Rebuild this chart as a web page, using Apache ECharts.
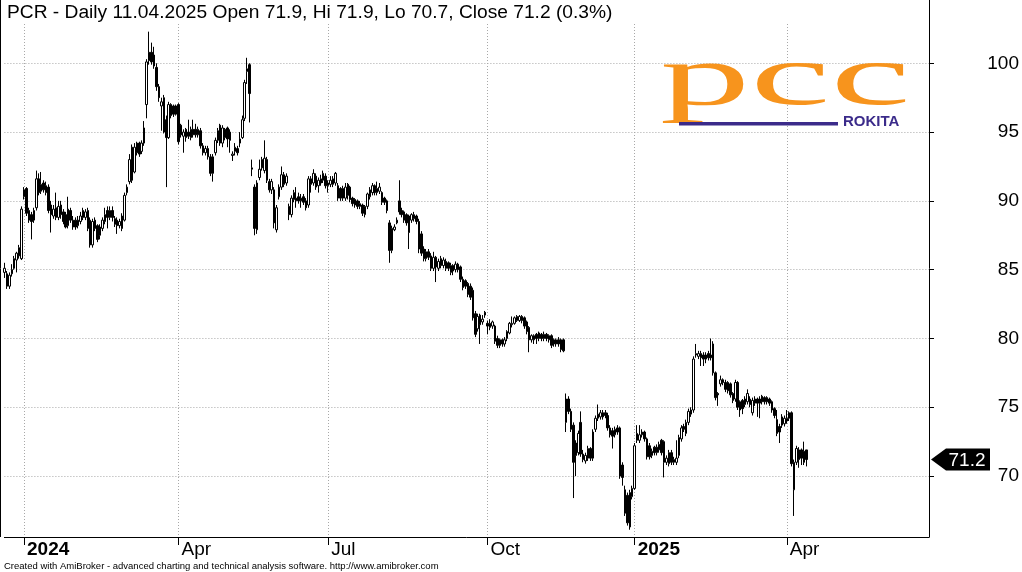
<!DOCTYPE html>
<html><head><meta charset="utf-8">
<script src="https://cdn.jsdelivr.net/npm/echarts@6/dist/echarts.min.js"></script>
<style>html,body{margin:0;padding:0;background:#fff}#c{width:1022px;height:572px}</style>
</head><body><div id="c"></div>
<script>
// ---------- data ----------
const titleText = 'PCR - Daily 11.04.2025 Open 71.9, Hi 71.9, Lo 70.7, Close 71.2 (0.3%)';
const footerText = 'Created with AmiBroker - advanced charting and technical analysis software. http://www.amibroker.com';
const startDate = '2023-12-18';
const holidays = ['2023-12-25','2023-12-26','2024-01-01','2024-03-29','2024-04-01','2024-05-01','2024-05-03','2024-05-30','2024-08-15','2024-11-01','2024-11-11','2024-12-24','2024-12-25','2024-12-26','2024-12-31','2025-01-01','2025-01-06','2025-04-18','2025-04-21','2025-05-01','2025-06-19'];
const totalSlots = 378;
const quarterMonths = [0, 3, 6, 9];
const monthNames = ['Jan','Feb','Mar','Apr','May','Jun','Jul','Aug','Sep','Oct','Nov','Dec'];
const yTicks = [70, 75, 80, 85, 90, 95, 100];
const yMin = 65.57, yMax = 104.6;

const opens = [
84.8,84.7,83.8,84.7,85.1,85.7,86.0,85.8,90.3,90.9,
89.3,89.0,88.6,89.5,91.6,90.7,91.3,91.1,91.0,89.7,
88.9,89.5,88.8,89.7,89.2,89.0,88.2,89.3,88.1,88.6,
88.2,88.5,89.3,88.8,89.3,88.6,86.8,88.6,88.2,87.5,
88.0,88.5,89.3,88.8,89.3,88.7,88.6,88.2,88.9,88.6,
90.6,91.4,93.9,92.1,94.2,94.2,93.6,94.2,97.0,100.8,
100.8,100.6,99.7,98.3,96.9,95.0,95.9,94.6,97.0,96.9,
96.3,97.0,95.5,94.7,95.2,95.0,94.6,95.2,95.2,94.8,
95.1,94.0,93.5,93.8,93.2,92.0,93.5,94.4,95.5,94.2,
95.2,95.3,95.0,93.3,93.6,93.8,94.2,94.6,96.0,99.4,
99.9,92.3,91.0,87.9,91.7,93.0,92.2,93.0,91.4,90.8,
90.8,87.9,90.3,91.0,91.9,91.3,89.6,89.0,90.1,90.0,
90.3,90.0,90.3,90.0,89.7,91.6,91.3,91.8,91.1,91.3,
91.5,91.8,91.1,91.2,91.2,91.3,91.1,90.9,90.2,90.2,
91.2,91.0,90.2,90.1,90.0,89.6,89.7,89.0,89.6,90.3,
90.6,91.1,90.6,90.7,90.6,90.2,90.0,88.4,86.4,87.9,
88.4,90.0,89.3,89.2,89.0,88.9,88.6,88.7,88.9,88.5,
87.6,86.5,85.8,86.3,86.0,85.1,85.9,85.1,85.8,85.3,
85.6,85.5,84.8,85.3,85.0,85.4,85.2,84.3,84.2,84.0,
83.8,83.5,81.8,80.7,81.7,81.2,81.9,81.1,80.8,80.9,
80.9,80.0,79.9,79.9,79.6,80.0,80.4,81.0,81.1,81.3,
81.3,81.6,81.5,81.2,80.8,79.9,79.9,80.3,80.0,80.3,
80.0,80.3,79.9,80.2,79.9,79.6,79.9,79.9,79.9,73.9,
75.6,74.7,73.7,72.4,71.7,73.9,71.6,71.1,71.3,72.0,
71.3,73.4,74.2,74.3,74.6,74.6,74.4,73.5,73.3,73.0,
73.5,73.5,70.8,69.0,68.6,66.3,68.5,69.1,72.6,72.6,
73.0,73.2,72.7,72.2,71.5,72.1,71.7,71.9,72.6,72.5,
71.0,70.9,71.7,71.0,71.0,71.5,72.7,73.6,73.1,73.9,
74.5,74.8,78.8,78.7,78.9,78.8,78.5,78.9,78.8,79.6,
77.5,76.0,76.7,77.0,76.8,76.8,76.7,76.0,75.6,76.8,
75.4,75.5,75.2,75.4,75.6,74.6,75.3,75.6,75.3,75.8,
75.7,75.7,75.6,75.4,74.9,74.1,73.6,73.7,73.8,74.0,
74.6,74.6,69.0,71.0,71.9,71.9,71.8,71.9];
const closes = [
85.1,83.8,84.6,85.0,85.8,86.2,86.6,89.4,90.8,89.1,
88.6,88.5,89.3,91.6,90.6,91.2,90.8,90.6,89.3,89.0,
89.4,88.8,89.6,89.0,88.5,88.1,89.4,88.6,88.6,88.1,
88.6,88.9,88.8,89.2,88.0,86.8,88.5,88.0,87.2,88.1,
88.6,89.0,88.8,89.3,88.8,88.3,88.2,88.5,88.0,90.4,
91.0,93.0,91.5,93.9,93.5,93.4,94.2,95.3,100.1,100.2,
100.1,99.8,98.3,97.5,97.2,97.5,94.6,97.0,96.2,96.3,
96.9,94.3,94.8,95.0,94.6,94.7,95.2,94.8,94.8,95.2,
94.0,93.5,93.8,93.2,92.0,93.2,94.4,95.1,94.2,95.3,
94.6,94.5,94.4,93.4,93.9,93.5,94.5,95.9,98.6,99.6,
97.8,92.4,88.0,91.3,92.3,92.4,93.1,91.5,90.8,91.4,
88.4,89.5,91.0,91.9,91.2,91.8,89.0,90.2,90.6,90.2,
90.0,90.2,89.9,89.5,91.6,91.2,92.0,91.0,91.5,91.6,
92.0,91.1,91.3,91.5,91.6,92.0,90.2,90.2,90.9,91.0,
90.4,90.1,89.8,89.7,89.6,89.8,89.1,89.6,90.5,90.8,
91.1,90.6,90.9,91.0,89.9,89.9,89.3,86.4,88.0,88.1,
88.6,89.2,89.0,88.6,88.4,87.7,89.0,89.0,88.5,86.5,
86.2,85.8,86.3,85.9,85.1,85.9,85.2,85.6,85.3,85.7,
85.1,85.1,85.3,84.9,85.4,85.0,84.3,83.7,83.8,83.2,
83.0,81.5,80.3,81.6,81.0,81.4,81.7,80.9,81.1,81.2,
79.8,79.5,79.5,79.6,79.9,80.5,81.1,81.1,81.5,81.6,
81.6,81.3,80.9,80.5,79.9,80.2,80.2,80.0,80.4,80.0,
80.3,80.0,80.2,79.5,79.6,79.9,79.6,79.2,79.1,75.6,
74.7,73.4,71.0,71.5,73.1,71.6,71.2,71.5,72.0,71.3,
73.2,74.2,74.5,74.6,74.3,74.4,73.5,73.0,72.9,73.4,
73.2,70.0,69.9,67.3,66.6,68.8,69.1,72.2,73.1,73.0,
73.2,72.7,71.4,71.4,71.8,71.7,72.1,72.3,71.7,71.0,
71.3,71.7,71.0,71.2,71.3,72.8,73.5,73.4,73.9,74.7,
74.8,78.5,78.9,78.9,78.6,78.5,78.8,78.6,78.6,77.5,
75.7,75.9,77.0,76.8,76.3,76.2,75.9,75.5,76.8,75.0,
74.8,74.9,75.6,76.0,75.2,75.5,75.6,75.3,75.6,75.4,
75.4,75.4,75.3,74.8,74.4,73.1,73.2,74.3,74.2,74.2,
74.2,70.9,71.0,72.0,71.2,71.3,71.0,71.2];
const lows = [
84.4,83.6,83.6,84.5,85.0,84.8,85.8,85.7,90.1,88.9,
88.4,87.2,88.4,89.3,90.4,90.5,90.6,90.4,89.1,87.7,
88.7,88.6,88.6,88.7,88.3,88.0,88.0,88.4,87.9,87.9,
88.0,88.3,88.6,88.6,87.8,86.6,86.6,87.8,87.0,87.2,
87.8,88.3,88.0,88.6,88.5,88.1,87.6,88.0,87.8,88.5,
90.4,91.2,91.3,92.0,93.3,93.2,93.4,94.0,96.0,99.9,
99.9,99.6,98.0,97.2,95.1,94.9,91.0,94.5,96.0,96.1,
96.2,94.1,94.6,93.5,94.3,94.5,94.4,94.6,94.6,94.6,
93.8,93.3,93.3,93.0,91.8,91.4,93.3,94.2,94.0,93.9,
94.4,93.9,93.5,92.9,93.3,93.3,93.9,94.5,95.8,98.5,
95.7,91.8,87.5,87.6,91.5,92.2,92.0,91.3,90.6,90.5,
88.0,87.7,90.1,90.8,91.0,91.1,88.6,88.8,89.9,89.5,
89.8,89.5,89.7,89.3,89.5,90.6,91.1,90.8,90.6,91.1,
91.3,90.9,90.6,91.0,91.0,91.1,90.0,90.0,90.0,90.0,
90.1,89.9,89.6,89.5,89.4,89.4,88.9,88.8,89.4,90.1,
90.4,90.4,90.4,90.5,89.7,89.7,89.1,85.5,86.2,87.8,
88.3,89.0,88.8,88.4,88.2,86.5,88.4,88.5,88.3,86.2,
86.0,85.6,85.6,85.7,84.9,84.9,84.1,84.9,85.1,85.1,
84.9,84.9,84.6,84.6,84.8,84.8,84.1,83.5,83.6,83.0,
82.8,81.3,80.1,80.5,79.6,81.0,81.5,80.3,80.6,80.7,
79.6,79.3,79.3,79.4,79.4,79.8,80.3,80.8,81.0,81.2,
81.2,81.1,80.7,80.3,79.0,79.7,79.6,79.6,79.8,79.8,
79.8,79.8,79.7,79.3,79.4,79.4,79.4,79.0,79.0,73.2,
74.5,73.2,68.4,70.0,71.5,71.4,71.0,70.9,71.1,71.1,
71.1,73.2,74.0,74.1,74.1,74.2,73.3,72.8,72.0,72.8,
73.0,69.8,69.3,67.1,66.4,66.1,68.3,69.0,72.4,72.4,
72.8,72.5,71.2,71.2,71.3,71.5,71.5,71.7,71.5,69.9,
70.8,70.7,70.8,70.8,70.8,71.3,72.5,73.2,72.9,73.7,
74.3,74.6,78.6,78.5,78.0,78.0,78.2,78.4,78.4,77.3,
75.5,75.1,76.5,76.6,76.1,76.0,75.7,75.3,75.4,74.8,
74.3,74.5,75.0,75.2,75.0,74.4,75.1,74.3,74.2,75.2,
75.2,75.2,75.1,74.6,74.2,72.9,72.4,73.5,73.6,73.8,
74.0,70.7,67.1,70.8,70.6,70.8,70.8,70.7];
const highs = [
85.5,84.9,84.8,85.4,86.0,86.3,86.8,89.6,91.0,91.0,
89.5,89.2,89.5,92.2,92.0,92.1,91.5,91.4,91.2,90.0,
89.7,90.6,90.0,90.0,89.4,89.2,90.3,89.5,88.9,88.8,
88.9,89.2,89.5,89.4,89.5,88.8,88.7,88.8,88.3,88.3,
88.8,89.5,89.6,89.6,89.6,88.9,88.8,88.7,89.1,90.6,
91.2,93.4,94.1,94.2,94.3,94.3,94.4,95.8,100.3,102.3,
101.5,101.2,100.0,98.5,97.5,97.7,96.2,97.2,97.1,97.0,
97.0,97.1,95.6,95.2,95.3,95.9,95.4,95.9,95.6,95.4,
95.3,94.2,94.0,94.0,93.4,93.4,94.6,95.3,95.6,95.5,
95.3,95.4,95.2,93.6,94.2,94.0,95.0,96.2,98.8,100.4,
100.0,93.0,91.2,91.5,93.0,93.2,94.4,93.2,91.6,91.6,
91.0,89.7,91.2,92.5,92.1,92.0,89.8,90.4,90.8,91.0,
90.6,90.5,90.5,90.2,91.8,91.8,92.3,92.0,91.7,91.9,
92.2,92.0,91.5,91.8,91.8,92.1,91.3,91.0,91.1,91.3,
91.3,91.1,90.3,90.2,90.1,90.0,89.8,89.7,90.6,91.0,
91.3,91.2,91.4,91.3,90.7,90.3,90.1,88.6,88.2,88.3,
88.8,91.5,89.5,89.3,89.1,89.0,89.1,89.2,89.0,88.7,
87.8,86.7,86.5,86.5,86.2,86.3,86.0,85.8,86.0,85.9,
85.8,85.6,85.5,85.4,85.6,85.5,85.3,84.5,84.3,84.1,
84.0,83.7,82.0,81.8,81.8,81.7,82.0,81.3,81.4,81.3,
81.0,80.2,80.0,80.0,80.1,80.6,81.2,81.6,81.6,81.7,
81.7,81.7,81.6,81.3,80.9,80.3,80.3,80.4,80.5,80.4,
80.5,80.4,80.3,80.3,80.0,80.0,80.1,80.0,80.0,76.0,
75.8,74.9,73.9,72.6,73.3,74.7,71.9,71.7,72.2,72.1,
73.4,74.4,75.2,74.8,74.8,74.8,74.6,73.7,73.5,73.6,
73.7,73.6,71.0,69.3,68.8,69.0,69.3,72.4,73.7,73.7,
73.4,73.3,72.8,72.4,72.0,72.2,72.3,72.5,72.7,72.6,
71.5,71.9,71.9,71.4,72.6,73.0,73.7,73.8,74.1,74.9,
75.0,78.7,79.6,79.1,79.1,79.0,79.0,79.1,80.0,79.8,
77.6,76.1,77.3,77.1,77.0,76.9,76.8,76.1,77.0,76.9,
75.5,75.6,75.8,76.3,75.8,75.7,75.8,75.7,75.8,75.9,
75.8,75.8,75.7,75.5,75.0,74.8,73.8,74.5,74.4,74.8,
74.7,74.7,71.2,72.2,72.1,72.0,72.5,71.9];

// ---------- helpers ----------
function pad(n){return (n<10?'0':'')+n;}
function tradingDays(start, n, hol){
  const out = []; const d = new Date(start + 'T12:00:00Z');
  while (out.length < n) {
    const wd = d.getUTCDay();
    const s = d.getUTCFullYear()+'-'+pad(d.getUTCMonth()+1)+'-'+pad(d.getUTCDate());
    if (wd !== 0 && wd !== 6 && hol.indexOf(s) < 0) out.push(s);
    d.setUTCDate(d.getUTCDate()+1);
  }
  return out;
}
const dates = tradingDays(startDate, totalSlots, holidays);
const monthOf = s => +s.slice(5,7) - 1;
function isQuarterStart(i){
  if (i <= 0) return false;
  const m = monthOf(dates[i]);
  return quarterMonths.indexOf(m) >= 0 && m !== monthOf(dates[i-1]);
}
const candles = opens.map((o,i)=>[o, closes[i], lows[i], highs[i]]);

const FONT = '"Liberation Sans", Arial, sans-serif';
const GRID = '#a8a8a8';
const chart = echarts.init(document.getElementById('c'), null, {renderer:'canvas'});
const option = {
  animation: false,
  backgroundColor: '#ffffff',
  grid: {left: 4.4, right: 93, top: 0, bottom: 35, containLabel: false},
  xAxis: {
    type: 'category', data: dates, boundaryGap: false,
    axisLine: {show: true, onZero: false, lineStyle: {color: '#000', width: 1}},
    axisTick: {show: true, interval: (i)=>isQuarterStart(i), length: 8, lineStyle: {color: '#000'}},
    axisLabel: {
      interval: (i)=>isQuarterStart(i), align: 'left', margin: 3, padding: [0,0,0,3],
      color: '#000', fontFamily: FONT, fontSize: 19,
      formatter: (v)=>{ const m = monthOf(v); return m === 0 ? '{y|' + v.slice(0,4) + '}' : monthNames[m]; },
      rich: {y: {fontWeight: 'bold', fontSize: 19, fontFamily: FONT, color: '#000'}}
    },
    splitLine: {show: true, interval: (i)=>isQuarterStart(i), lineStyle: {color: GRID, type: [1,2], width: 1}}
  },
  yAxis: {
    type: 'value', position: 'right', min: yMin, max: yMax,
    axisLine: {show: true, lineStyle: {color: '#000', width: 1}},
    axisTick: {show: true, length: 5, customValues: yTicks, lineStyle: {color: '#000'}},
    axisLabel: {customValues: yTicks, color: '#000', fontFamily: FONT, fontSize: 19, align: 'right', margin: 90},
    splitLine: {show: false}
  },
  series: [{
    type: 'candlestick', data: candles, barWidth: 2, clip: false,
    itemStyle: {color: '#ffffff', color0: '#000000', borderColor: '#000000', borderColor0: '#000000', borderColorDoji: '#000000', borderWidth: 1},
    markLine: {
      silent: true, symbol: 'none', animation: false,
      label: {show: false},
      lineStyle: {color: GRID, type: [1,2], width: 1},
      emphasis: {disabled: true},
      data: yTicks.map(v=>({yAxis: v}))
    },
    z: 5
  }]
};
chart.setOption(option);

// badge with last close, logo, title, footer
const lastIdx = closes.length - 1;
const lastY = chart.convertToPixel({yAxisIndex: 0}, closes[lastIdx]);
const axisX = 1022 - 93;
const navy = '#3b2b8a', orange = '#f7941d';
chart.setOption({
  graphic: [
    {type: 'rect', z: 50, shape: {x: 1, y: 0, width: axisX - 1.5, height: 24}, style: {fill: '#fff'}},
    {type: 'line', z: 60, shape: {x1: 0.5, y1: 0, x2: 0.5, y2: 537}, style: {stroke: '#000', lineWidth: 1}},
    {type: 'text', z: 60, style: {x: 7, y: 13, text: titleText, font: '19.2px ' + FONT, fill: '#000', textVerticalAlign: 'middle'}},
    {type: 'text', z: 60, style: {x: 4, y: 566, text: footerText, font: '9.5px ' + FONT, fill: '#000', textVerticalAlign: 'middle'}},
    {type: 'polygon', z: 60, shape: {points: [[axisX + 2, lastY], [axisX + 17, lastY - 11], [axisX + 61, lastY - 11], [axisX + 61, lastY + 11], [axisX + 17, lastY + 11]]}, style: {fill: '#000'}},
    {type: 'text', z: 61, style: {x: axisX + 38, y: lastY + 1, text: closes[lastIdx].toFixed(1), font: '19px ' + FONT, fill: '#fff', textAlign: 'center', textVerticalAlign: 'middle'}},
    {type: 'text', z: 40, scaleX: 2.1, x: 660, y: 0, originX: 0, style: {x: 0, y: 81, text: 'pcc', font: '86px "Liberation Serif", serif', fill: orange, textVerticalAlign: 'middle'}},
    {type: 'rect', z: 40, shape: {x: 679, y: 122, width: 159, height: 3.5}, style: {fill: navy}},
    {type: 'text', z: 40, style: {x: 843, y: 121.5, text: 'ROKITA', font: 'bold 15px ' + FONT, fill: navy, textVerticalAlign: 'middle'}}
  ]
});
</script></body></html>
